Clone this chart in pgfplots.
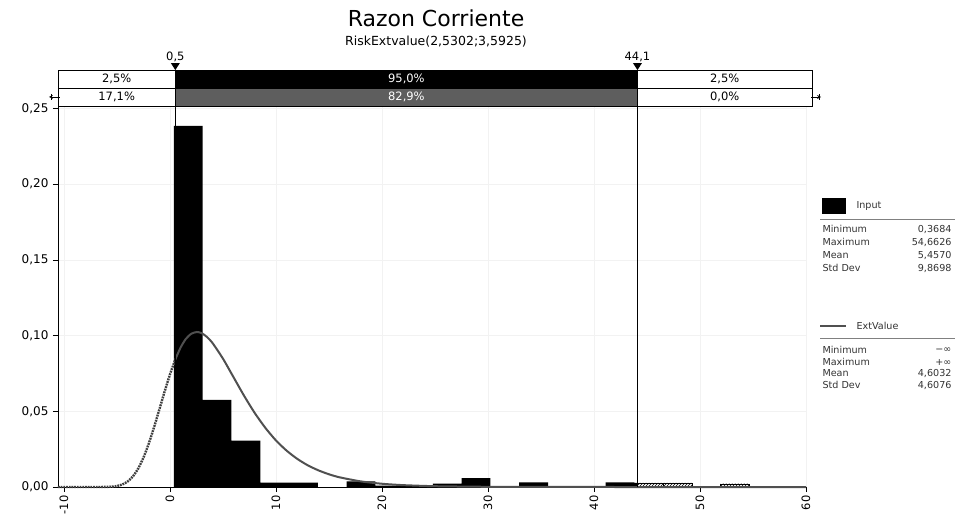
\documentclass[border=0pt]{standalone}
\usepackage{fontspec}
\setmainfont{DejaVu Sans}
\usepackage{pgfplots}
\pgfplotsset{compat=1.18}
\usetikzlibrary{patterns}
\definecolor{fitgray}{HTML}{505050}
\definecolor{bandgray}{HTML}{5E5E5E}
\begin{document}
\begin{tikzpicture}
\path[use as bounding box] (-58pt,-36pt) rectangle (897pt,487pt);
\begin{axis}[
  scale only axis, width=748pt, height=380.3pt,
  xmin=-10.57, xmax=60, ymin=0, ymax=0.2512,
  axis x line*=bottom, axis y line*=left,
  axis line style={line width=0.8pt},
  xtick={-10,0,10,20,30,40,50,60},
  xticklabels={-10,0,10,20,30,40,50,60},
  ytick={0,0.05,0.10,0.15,0.20,0.25},
  yticklabels={{0,00},{0,05},{0,10},{0,15},{0,20},{0,25}},
  tick align=outside, major tick length=5pt,
  tick style={black, line width=0.7pt},
  xticklabel style={rotate=90, anchor=east, font=\fontsize{11.5}{12}\selectfont},
  yticklabel style={font=\fontsize{12}{13}\selectfont, xshift=-1pt},
  grid=major, grid style={gray!10, line width=0.4pt},
  clip=false,
]
% histogram (inside delimiters)
\addplot[ybar interval, fill=black, draw=none] coordinates {
 (0.368,0.2386) (3.083,0.0576) (5.797,0.0307) (8.512,0.0029) (11.227,0.0029)
 (13.941,0) (16.656,0.0037) (19.371,0.0009) (22.085,0.0009) (24.800,0.0022)
 (27.515,0.0058) (30.229,0) (32.944,0.0030) (35.659,0) (38.373,0)
 (41.088,0.0031) (43.803,0.0028) (44.1,0)};
% histogram (outside delimiters)
\addplot[ybar interval, pattern=north east lines, pattern color=black, draw=black, line width=0.3pt] coordinates {
 (44.1,0.0027) (46.517,0.0027) (49.231,0) (51.946,0.0022) (54.663,0)};
% fitted ExtValue density
\addplot[black!75, line width=2.4pt, dash pattern=on 1.8pt off 0.9pt, smooth, tension=0.4] coordinates {
 (-10.57,0) (-8,0) (-7,0.000003) (-6,0.00007) (-5.5,0.00023) (-5,0.00066) (-4.5,0.00166)
 (-4,0.00363) (-3.5,0.00703) (-3,0.01225) (-2.5,0.01955) (-2,0.0288) (-1.5,0.03966)
 (-1,0.0514) (-0.5,0.06331) (0,0.0745) (0.5,0.0843)};
\addplot[fitgray, line width=2pt, smooth, tension=0.4] coordinates {
 (0.5,0.0843) (1,0.0922) (1.5,0.0979) (2,0.1012) (2.53,0.1024) (3,0.1016) (3.5,0.0990)
 (4,0.0952) (5,0.0847) (6,0.0724) (7,0.0601) (8,0.0488) (9,0.0390) (10,0.0307)
 (11,0.0240) (12,0.0186) (13,0.0143) (14,0.0110) (15,0.00839) (16,0.0064) (18,0.0037)
 (20,0.00214) (22,0.00123) (25,0.00053) (30,0.00013) (35,0.00003) (44.1,0) (60,0)};
% delimiter lines
\draw[black, line width=0.7pt] (axis cs:0.5,0) -- (axis cs:0.5,0.2754);
\draw[black, line width=0.7pt] (axis cs:44.1,0) -- (axis cs:44.1,0.2754);
% bands
\fill[black] (axis cs:0.5,0.2635) rectangle (axis cs:44.1,0.2754);
\fill[bandgray] (axis cs:0.5,0.2512) rectangle (axis cs:44.1,0.2635);
\draw[line width=0.8pt] (axis cs:-10.57,0.2512) rectangle (axis cs:60.57,0.2754);
\draw[line width=0.8pt] (axis cs:-10.57,0.2635) -- (axis cs:60.57,0.2635);
\draw[line width=0.7pt] (axis cs:0.5,0.2512) -- (axis cs:0.5,0.2754);
\draw[line width=0.7pt] (axis cs:44.1,0.2512) -- (axis cs:44.1,0.2754);
\begin{scope}[font=\fontsize{11.5}{11.5}\selectfont]
\node at (axis cs:-5.035,0.26945) {2,5\%};
\node[white] at (axis cs:22.3,0.26945) {95,0\%};
\node at (axis cs:52.335,0.26945) {2,5\%};
\node at (axis cs:-5.035,0.25735) {17,1\%};
\node[white] at (axis cs:22.3,0.25735) {82,9\%};
\node at (axis cs:52.335,0.25735) {0,0\%};
\node[anchor=south, inner sep=1pt] at ([yshift=7pt]axis cs:0.5,0.2754) {0,5};
\node[anchor=south, inner sep=1pt] at ([yshift=7pt]axis cs:44.1,0.2754) {44,1};
\end{scope}
\fill[black] ([xshift=-4.5pt,yshift=7pt]axis cs:0.5,0.2754) -- ([xshift=4.5pt,yshift=7pt]axis cs:0.5,0.2754) -- (axis cs:0.5,0.2754) -- cycle;
\fill[black] ([xshift=-4.5pt,yshift=7pt]axis cs:44.1,0.2754) -- ([xshift=4.5pt,yshift=7pt]axis cs:44.1,0.2754) -- (axis cs:44.1,0.2754) -- cycle;
\end{axis}
\begin{scope}[x=1pt, y=-1pt, shift={(-58pt,487pt)}]
% scroll arrows
\draw[line width=0.7pt, -stealth] (60,97) -- (49,97);
\draw[line width=0.7pt] (51,94) -- (51,100);
\draw[line width=0.7pt, -stealth] (811,97) -- (821,97);
\draw[line width=0.7pt] (819,94) -- (819,100);
% title
\node[font=\fontsize{22}{25}\selectfont] at (436,18) {Razon Corriente};
\node[font=\fontsize{12.5}{14}\selectfont] at (436,42) {RiskExtvalue(2,5302;3,5925)};
% legend
\begin{scope}[font=\fontsize{9.6}{10}\selectfont, text=black!80]
\fill[black] (822,198) rectangle (846,214);
\node[anchor=west] at (853,206) {Input};
\draw[gray, line width=0.6pt] (820,219) -- (955,219);
\node[anchor=west] at (819,229) {Minimum};
\node[anchor=west] at (819,242) {Maximum};
\node[anchor=west] at (819,255) {Mean};
\node[anchor=west] at (819,268) {Std Dev};
\node[anchor=east] at (955,229) {0,3684};
\node[anchor=east] at (955,242) {54,6626};
\node[anchor=east] at (955,255) {5,4570};
\node[anchor=east] at (955,268) {9,8698};
\draw[fitgray, line width=1.6pt] (820,326) -- (846,326);
\node[anchor=west] at (853,326) {ExtValue};
\draw[gray, line width=0.6pt] (820,338) -- (955,338);
\node[anchor=west] at (819,350) {Minimum};
\node[anchor=west] at (819,362) {Maximum};
\node[anchor=west] at (819,373) {Mean};
\node[anchor=west] at (819,385) {Std Dev};
\node[anchor=east] at (955,350) {−∞};
\node[anchor=east] at (955,362) {+∞};
\node[anchor=east] at (955,373) {4,6032};
\node[anchor=east] at (955,385) {4,6076};
\end{scope}
\end{scope}
\end{tikzpicture}
\end{document}
